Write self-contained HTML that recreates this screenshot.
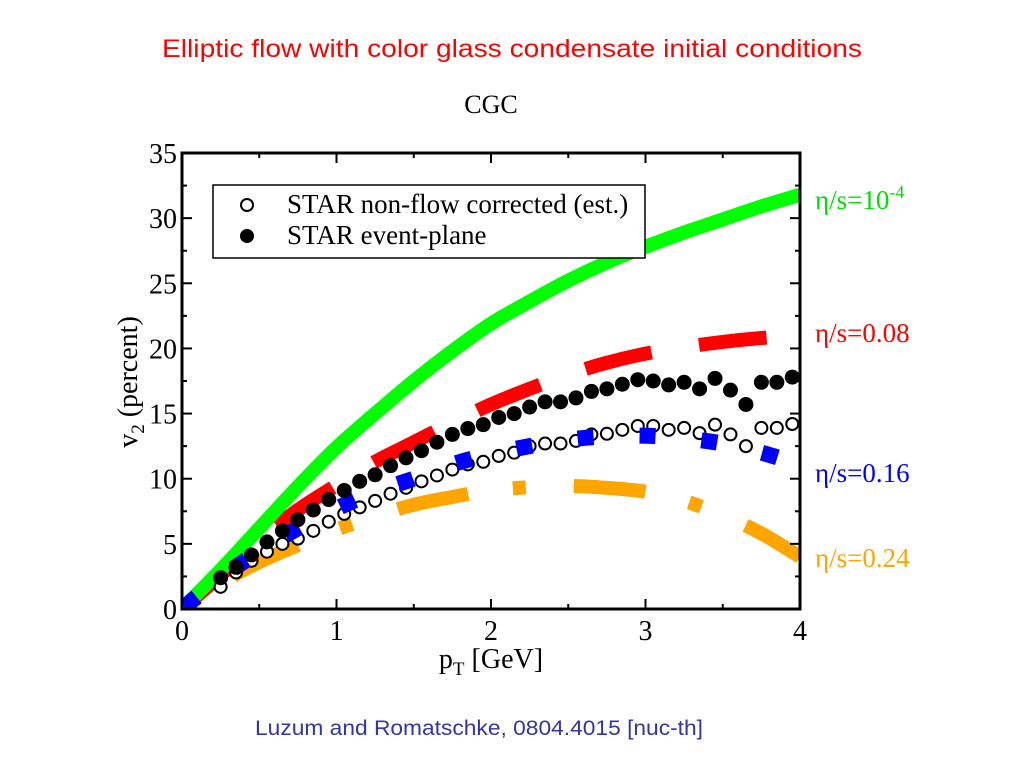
<!DOCTYPE html>
<html><head><meta charset="utf-8"><style>
body{margin:0;background:#fff;width:1024px;height:768px;overflow:hidden}
svg text{font-family:"Liberation Serif",serif}
</style></head><body>
<svg id="chart" width="1024" height="768" xmlns="http://www.w3.org/2000/svg">
<text x="512" y="57" text-anchor="middle" fill="#ff0000" style="font-family:'Liberation Sans',sans-serif" font-size="25" textLength="700" lengthAdjust="spacingAndGlyphs">Elliptic flow with color glass condensate initial conditions</text>
<text x="491" y="113" text-anchor="middle" font-size="26">CGC</text>
<text x="479" y="735" text-anchor="middle" fill="#3333aa" style="font-family:'Liberation Sans',sans-serif" font-size="21" textLength="448" lengthAdjust="spacingAndGlyphs">Luzum and Romatschke, 0804.4015 [nuc-th]</text>
<g id="plot"></g>
</svg>
<script>
const xs = [0,0.25,0.5,0.75,1,1.25,1.5,1.75,2,2.25,2.5,2.75,3,3.25,3.5,3.75,4];
const green = [0,3.0,6.2,9.4,12.4,15.0,17.5,19.8,21.9,23.6,25.2,26.6,27.8,28.9,29.9,30.9,31.8];
const red = [0,2.6,5.3,7.6,9.5,11.3,12.8,14.3,15.7,16.9,18.0,18.9,19.6,20.1,20.5,20.8,21.0];
const blue = [0,2.4,4.4,6.2,7.7,9.0,10.0,11.1,11.9,12.5,13.0,13.25,13.3,13.1,12.7,12.0,11.1];
const orange = [0,2.0,3.6,4.9,6.1,7.1,8.0,8.6,9.1,9.35,9.45,9.3,9.0,8.3,7.2,5.8,4.0];
const dataPt = [0.25,0.35,0.45,0.55,0.65,0.75,0.85,0.95,1.05,1.15,1.25,1.35,1.45,1.55,1.65,1.75,1.85,1.95,2.05,2.15,2.25,2.35,2.45,2.55,2.65,2.75,2.85,2.95,3.05,3.15,3.25,3.35,3.45,3.55,3.65,3.75,3.85,3.95];
const filledV2 = [2.4,3.2,4.15,5.15,6.0,6.85,7.6,8.4,9.1,9.8,10.3,11.0,11.6,12.15,12.8,13.4,13.85,14.15,14.7,15.0,15.5,15.9,15.9,16.2,16.7,16.9,17.25,17.6,17.5,17.2,17.4,16.9,17.7,16.8,15.7,17.4,17.4,17.8];
const openV2 = [1.7,2.8,3.7,4.4,5.0,5.4,6.0,6.7,7.3,7.8,8.3,8.85,9.3,9.8,10.25,10.7,11.1,11.3,11.75,12.0,12.5,12.7,12.7,12.9,13.4,13.45,13.75,14.05,14.05,13.75,13.9,13.5,14.15,13.4,12.5,13.9,13.9,14.2];
const xTicks = [0,1,2,3,4];
const yTicks = [0,5,10,15,20,25,30,35];

const X0=182,X1=800,Y0=609,Y1=153;
const sx=v=>X0+(v/4)*(X1-X0);
const sy=v=>Y0-(v/35)*(Y0-Y1);
const NS="http://www.w3.org/2000/svg";
const g=document.getElementById('plot');
function mk(tag,attrs,parent){const e=document.createElementNS(NS,tag);for(const k in attrs)e.setAttribute(k,attrs[k]);(parent||g).appendChild(e);return e;}
function pathFor(vals){
  const p=xs.map((x,i)=>[sx(x),sy(vals[i])]);
  let d=`M${p[0][0]},${p[0][1]}`;
  for(let i=0;i<p.length-1;i++){
    const p0=p[Math.max(0,i-1)],p1=p[i],p2=p[i+1],p3=p[Math.min(p.length-1,i+2)];
    d+=` C${p1[0]+(p2[0]-p0[0])/6},${p1[1]+(p2[1]-p0[1])/6} ${p2[0]-(p3[0]-p1[0])/6},${p2[1]-(p3[1]-p1[1])/6} ${p2[0]},${p2[1]}`;
  }
  return d;
}
const defs=mk('defs',{});
const cp=mk('clipPath',{id:'clip'},defs);
mk('rect',{x:X0,y:Y1,width:X1-X0,height:Y0-Y1},cp);
const curves=mk('g',{'clip-path':'url(#clip)'});
let e;
e=mk('path',{d:pathFor(orange),fill:'none',stroke:'#ffa500','stroke-width':14,'stroke-dasharray':'72 45 13 48','stroke-dashoffset':'117'},curves);


e=mk('path',{d:pathFor(red),fill:'none',stroke:'#ff0000','stroke-width':14,'stroke-dasharray':'68 48','stroke-dashoffset':'106'},curves);


e=mk('path',{d:pathFor(green),fill:'none',stroke:'#00ff00','stroke-width':14},curves);


dataPt.forEach((x,i)=>{
  const c=mk('circle',{cx:sx(x),cy:sy(openV2[i]),r:6,fill:'#fff',stroke:'#000','stroke-width':2});
  
  
});
const blueG=mk('g',{'clip-path':'url(#clip)'});
e=mk('path',{d:pathFor(blue),fill:'none',stroke:'#0000ff','stroke-width':16,'stroke-dasharray':'16 46','stroke-dashoffset':'59'},blueG);


dataPt.forEach((x,i)=>{
  const c=mk('circle',{cx:sx(x),cy:sy(filledV2[i]),r:7.5,fill:'#000'});
  
  
});
e=mk('rect',{x:X0,y:Y1,width:X1-X0,height:Y0-Y1,fill:'none',stroke:'#000','stroke-width':3});


for(let v=0;v<=4.001;v+=0.5){
  const L=(Math.abs(v-Math.round(v))<1e-6)?10:5,x=sx(v);
  mk('line',{x1:x,y1:Y0,x2:x,y2:Y0-L,stroke:'#000','stroke-width':2});
  mk('line',{x1:x,y1:Y1,x2:x,y2:Y1+L,stroke:'#000','stroke-width':2});
}
for(let v=0;v<=35.001;v+=2.5){
  const L=(Math.abs(v/5-Math.round(v/5))<1e-6)?10:5,y=sy(v);
  mk('line',{x1:X0,y1:y,x2:X0+L,y2:y,stroke:'#000','stroke-width':2});
  mk('line',{x1:X1,y1:y,x2:X1-L,y2:y,stroke:'#000','stroke-width':2});
}
xTicks.forEach(v=>{const t=mk('text',{x:sx(v),y:640,'text-anchor':'middle','font-size':28});t.textContent=v;
});
yTicks.forEach(v=>{const t=mk('text',{x:177,y:sy(v)+10,'text-anchor':'end','font-size':28});t.textContent=v;
});
</script>
<svg style="position:absolute;left:0;top:0" width="1024" height="768" xmlns="http://www.w3.org/2000/svg">
<text x="491" y="668" text-anchor="middle" font-size="28">p<tspan font-size="19" dy="7">T</tspan><tspan dy="-7"> [GeV]</tspan></text>
<text transform="translate(137,382) rotate(-90)" text-anchor="middle" font-size="28">v<tspan font-size="19" dy="7">2</tspan><tspan dy="-7"> (percent)</tspan></text>
<g>
<rect x="213" y="185" width="432" height="73" fill="#fff" stroke="#000" stroke-width="1.5"/>
<circle cx="247" cy="205" r="6" fill="#fff" stroke="#000" stroke-width="2"/>
<text x="287" y="213" font-size="27">STAR non-flow corrected (est.)</text>
<circle cx="247" cy="236" r="7" fill="#000"/>
<text x="287" y="244" font-size="27">STAR event-plane</text>
</g>
<text x="815" y="209" fill="#00e000" font-size="27">η/s=10<tspan font-size="18" dy="-11">-4</tspan></text>
<text x="815" y="342" fill="#ff0000" font-size="27">η/s=0.08</text>
<text x="815" y="482" fill="#0000ff" font-size="27">η/s=0.16</text>
<text x="815" y="567" fill="#ffa500" font-size="27">η/s=0.24</text>
</svg>
</body></html>
